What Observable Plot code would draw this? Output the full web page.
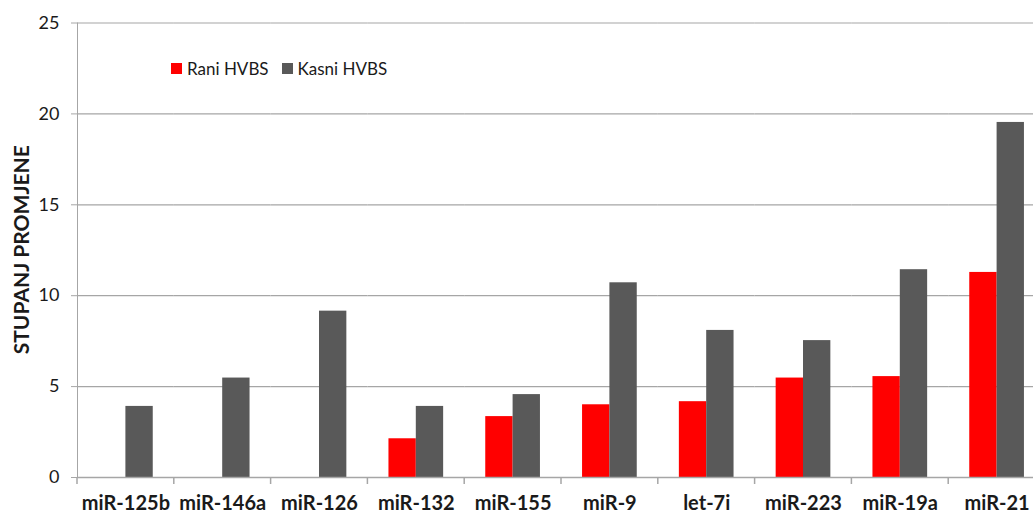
<!DOCTYPE html>
<html>
<head>
<meta charset="utf-8">
<script src="https://cdn.jsdelivr.net/npm/d3@7"></script>
<script src="https://cdn.jsdelivr.net/npm/@observablehq/plot@0.6"></script>
<style>
  html, body { margin: 0; padding: 0; background: #fff; overflow: hidden; }
  #wrap { position: relative; width: 1033px; height: 517px; overflow: hidden; }
  #wrap svg { max-width: none !important; }
  #legend { position: absolute; left: 171px; top: 58px; display: flex; align-items: center;
            font-family: Lato, sans-serif; font-size: 17px; color: #1a1a1a; }
  #legend .sw { width: 11px; height: 11px; display: inline-block; margin-right: 5px; }
  #legend .item { display: flex; align-items: center; margin-right: 13px; }
</style>
</head>
<body>
<div id="wrap"><div id="legend"></div></div>
<script>
const categories = ["miR-125b","miR-146a","miR-126","miR-132","miR-155","miR-9","let-7i","miR-223","miR-19a","miR-21"];
const series = ["Rani HVBS","Kasni HVBS"];
const rani  = [null, null, null, 2.13, 3.35, 4.0, 4.17, 5.47, 5.55, 11.28];
const kasni = [3.91, 5.47, 9.15, 3.91, 4.56, 10.71, 8.09, 7.53, 11.43, 19.53];
const yTicks = [0, 5, 10, 15, 20, 25];
const colors = ["#ff0000", "#595959"];
const yLabel = "STUPANJ PROMJENE";

const data = [];
categories.forEach((c, i) => {
  [rani, kasni].forEach((arr, s) => {
    if (arr[i] != null) data.push({cat: c, series: series[s], value: arr[i]});
  });
});

const gridColor = "#a6a6a6";

const plot = Plot.plot({
  width: 1045,
  height: 517,
  marginLeft: 77,
  marginRight: 0,
  marginTop: 22.5,
  marginBottom: 40,
  style: {fontFamily: "Lato, sans-serif", color: gridColor, background: "transparent"},
  fx: {domain: categories, padding: 0, round: false, label: null, tickSize: 0, tickPadding: 18},
  x: {domain: series, paddingInner: 0, paddingOuter: 0.77, round: false, axis: null},
  y: {domain: [0, 25], ticks: yTicks, label: null, line: true, tickSize: 6, tickPadding: 12},
  color: {domain: series, range: colors},
  marks: [
    Plot.ruleY(yTicks, {stroke: gridColor, strokeWidth: 1.2}),
    Plot.barY(data, {fx: "cat", x: "series", y: "value", fill: "series"}),
    Plot.ruleY([0], {stroke: gridColor, strokeWidth: 1.5})
  ]
});

const svg = d3.select(plot);
svg.style("max-width", "none");
svg.selectAll("text").attr("fill", "#1a1a1a");
svg.selectAll('g[aria-label="y-axis tick label"] text').style("font-size", "18px");
svg.selectAll('g[aria-label="fx-axis tick label"] text').style("font-size", "20px").style("font-weight", "bold");

// category boundary ticks, drawn from the fx and y scales
const fx = plot.scale("fx");
const y = plot.scale("y");
const y0 = y.apply(0);
const tg = svg.append("g").attr("stroke", gridColor).attr("stroke-width", 1.5);
categories.forEach((c, i) => {
  const xb = fx.apply(c);
  tg.append("line").attr("x1", xb).attr("x2", xb).attr("y1", y0).attr("y2", y0 + 7);
});

// y axis title
const yMid = (y.apply(0) + y.apply(25)) / 2;
svg.append("text")
  .attr("transform", `translate(20,${yMid}) rotate(-90)`)
  .attr("text-anchor", "middle")
  .attr("dominant-baseline", "central")
  .attr("fill", "#1a1a1a")
  .style("font-family", "Lato, sans-serif")
  .style("font-weight", "bold")
  .style("font-size", "21px")
  .text(yLabel);

const wrap = document.getElementById("wrap");
wrap.insertBefore(plot, wrap.firstChild);

const legend = document.getElementById("legend");
series.forEach((s, i) => {
  const item = document.createElement("span");
  item.className = "item";
  item.innerHTML = `<span class="sw" style="background:${colors[i]}"></span><span>${s}</span>`;
  legend.appendChild(item);
});
</script>
</body>
</html>
